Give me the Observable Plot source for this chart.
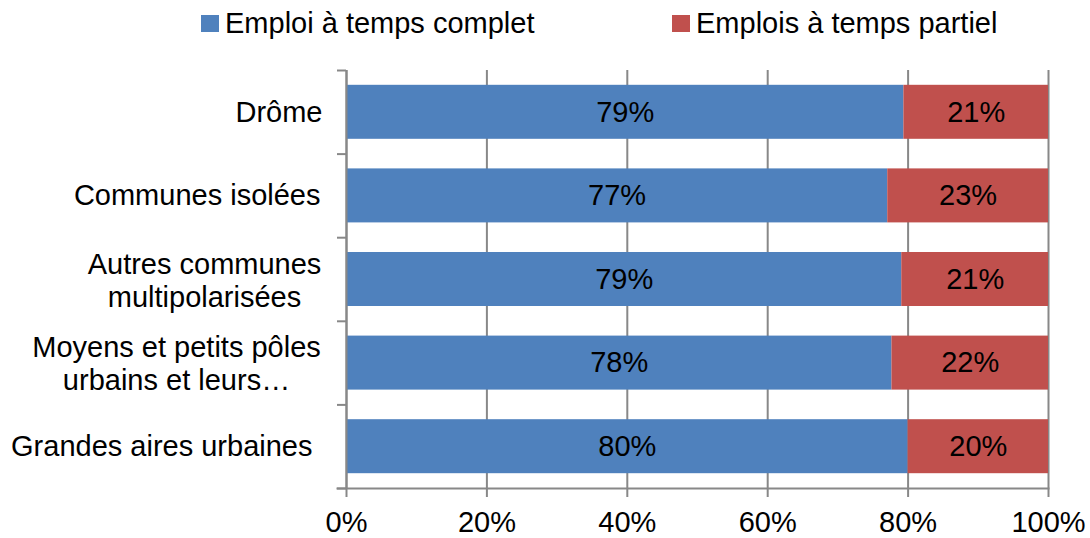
<!DOCTYPE html>
<html>
<head>
<meta charset="utf-8">
<script src="https://cdn.jsdelivr.net/npm/d3@7"></script>
<script src="https://cdn.jsdelivr.net/npm/@observablehq/plot@0.6"></script>
<style>
  body { margin: 0; background: #fff; font-family: "Liberation Sans", Arial, sans-serif; }
  #legend { position: relative; width: 1090px; height: 55px; font-size: 29px; color: #000; }
  .item { position: absolute; top: 7px; display: flex; align-items: center; white-space: nowrap; }
  .sw { width: 18px; height: 17px; margin-right: 6px; }
</style>
</head>
<body>
<div id="legend"></div>
<div id="chart"></div>
<script>
const categories = ["Drôme", "Communes isolées", "Autres communes\nmultipolarisées", "Moyens et petits pôles\nurbains et leurs…", "Grandes aires urbaines"];
const series = ["Emploi à temps complet", "Emplois à temps partiel"];
const complet = [79.4, 77.1, 79.1, 77.7, 80.0];
const partiel = [20.6, 22.9, 20.9, 22.3, 20.0];
const labelsComplet = [79, 77, 79, 78, 80];
const labelsPartiel = [21, 23, 21, 22, 20];
const xTicks = [0, 20, 40, 60, 80, 100];
const colors = ["#4F81BD", "#C0504D"];

const data = [];
categories.forEach((c, i) => {
  data.push({cat: c, type: series[0], value: complet[i], label: labelsComplet[i] + "%"});
  data.push({cat: c, type: series[1], value: partiel[i], label: labelsPartiel[i] + "%"});
});

// legend
const legend = document.getElementById("legend");
const legendLeft = [201, 672];
series.forEach((s, i) => {
  const it = document.createElement("div");
  it.className = "item";
  it.style.left = legendLeft[i] + "px";
  it.innerHTML = `<span class="sw" style="background:${colors[i]}"></span><span>${s}</span>`;
  legend.appendChild(it);
});

const W = 1090, H = 483, mt = 15, mb = 50, ml = 346, mr = 42;
const step = (H - mt - mb) / categories.length;
const gray = "#888888";

const chart = Plot.plot({
  width: W, height: H,
  marginTop: mt, marginBottom: mb, marginLeft: ml, marginRight: mr,
  style: {fontSize: "29px", fontFamily: "'Liberation Sans', Arial, sans-serif", color: "#000", background: "#fff"},
  x: {domain: [0, 100]},
  y: {domain: categories, padding: 0, round: false},
  color: {domain: series, range: colors},
  marks: [
    Plot.gridX(xTicks, {stroke: gray, strokeOpacity: 1, strokeWidth: 2}),
    Plot.barX(data, Plot.stackX({x: "value", y: "cat", fill: "type", order: series, insetTop: 14.8, insetBottom: 14.8})),
    Plot.text(data, Plot.stackX({x: "value", y: "cat", z: "type", order: series, text: "label", fill: "#000", fontSize: 29})),
    Plot.ruleX([0], {stroke: gray, strokeWidth: 2}),
    Plot.frame({anchor: "bottom", stroke: gray, strokeWidth: 2, insetLeft: -9}),
    Plot.ruleY(categories, {y: d => d, x1: 0, x2: 0, insetLeft: -9, dy: -step / 2, stroke: gray, strokeWidth: 2}),
    Plot.ruleY(categories.slice(-1), {y: d => d, x1: 0, x2: 0, insetLeft: -9, dy: step / 2, stroke: gray, strokeWidth: 2}),
    Plot.axisX(xTicks, {tickFormat: d => d + "%", tickSize: 9, tickPadding: 14, stroke: gray, strokeWidth: 2, fill: "#000", label: null}),
    Plot.axisY([categories[0]], {tickSize: 0, tickPadding: 24, fill: "#000", label: null}),
    Plot.axisY([categories[1]], {tickSize: 0, tickPadding: 26, fill: "#000", label: null}),
    Plot.axisY([categories[2]], {tickSize: 0, tickPadding: 142, textAnchor: "middle", fill: "#000", label: null, lineHeight: 1.14}),
    Plot.axisY([categories[3]], {tickSize: 0, tickPadding: 170, textAnchor: "middle", fill: "#000", label: null, lineHeight: 1.14}),
    Plot.axisY([categories[4]], {tickSize: 0, tickPadding: 34, fill: "#000", label: null})
  ]
});
document.getElementById("chart").appendChild(chart);
</script>
</body>
</html>
